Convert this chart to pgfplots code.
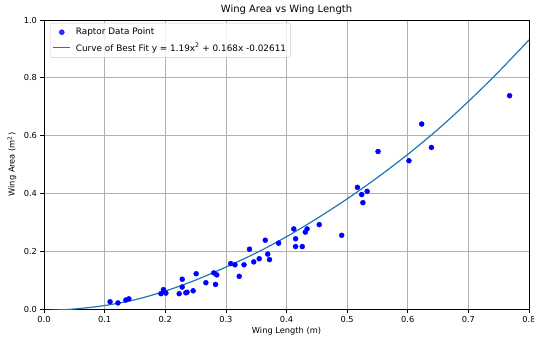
\documentclass[border=0pt]{standalone}
\usepackage{pgfplots}
\pgfplotsset{compat=1.18}
\usepackage{fontspec}
\setmainfont{DejaVu Sans}
\definecolor{mplblue}{HTML}{1F77B4}
\definecolor{gridgray}{HTML}{B0B0B0}
\definecolor{leggray}{HTML}{CCCCCC}
\begin{document}
\begin{tikzpicture}
\begin{axis}[
  name=ax,
  at={(0,0)}, anchor=south west,
  width=485bp, height=289bp, scale only axis,
  xmin=0, xmax=0.8, ymin=0, ymax=1.0,
  xtick={0,0.1,0.2,0.3,0.4,0.5,0.6,0.7,0.8},
  ytick={0,0.2,0.4,0.6,0.8,1.0},
  xticklabel style={/pgf/number format/.cd, fixed, fixed zerofill, precision=1},
  yticklabel style={/pgf/number format/.cd, fixed, fixed zerofill, precision=1},
  /pgf/number format/assume math mode=true,
  ticklabel style={font=\fontsize{8.3}{10}\selectfont},
  tick align=outside, xtick pos=lower, ytick pos=left,
  major tick length=3.5bp,
  tick style={black, line width=0.6bp},
  grid=major,
  major grid style={gridgray, line width=0.6bp},
  axis line style={black, line width=0.6bp},
  xlabel={Wing Length (m)},
  xlabel style={font=\fontsize{8.3}{10}\selectfont, at={(axis description cs:0.5,-0.076)}, anchor=center},
  ylabel={Wing Area (m\textsuperscript{2})},
  ylabel style={font=\fontsize{8.3}{10}\selectfont, at={(axis description cs:-0.066,0.5)}, anchor=center},
  legend style={at={(axis description cs:0.0124,0.99)}, anchor=north west,
    font=\fontsize{8.9}{10.5}\selectfont, draw=leggray, rounded corners=2bp,
    fill=white, fill opacity=0.8, text opacity=1, inner xsep=2.5bp, inner ysep=3bp,
    row sep=2.5bp, /tikz/every odd column/.append style={column sep=3bp}},
  legend cell align=left,
]
\addplot[only marks, mark=*, mark size=2.5bp, color=blue, mark options={fill=blue, draw=blue}] coordinates {
(0.109,0.025) (0.122,0.021) (0.135,0.031) (0.140,0.035)
(0.193,0.053) (0.197,0.067) (0.201,0.055) (0.223,0.053)
(0.228,0.103) (0.228,0.076) (0.234,0.056) (0.236,0.058)
(0.246,0.063) (0.251,0.122) (0.267,0.091) (0.280,0.125)
(0.285,0.118) (0.283,0.085) (0.308,0.157) (0.315,0.153)
(0.322,0.113) (0.330,0.153) (0.339,0.207) (0.346,0.163)
(0.355,0.174) (0.365,0.238) (0.369,0.190) (0.372,0.171)
(0.387,0.228) (0.412,0.277) (0.415,0.243) (0.415,0.216)
(0.426,0.216) (0.431,0.266) (0.434,0.277) (0.454,0.292)
(0.491,0.255) (0.517,0.421) (0.524,0.396) (0.526,0.368)
(0.533,0.407) (0.551,0.545) (0.602,0.513) (0.623,0.640)
(0.639,0.559) (0.768,0.738)
};
\addlegendentry{Raptor Data Point}
\addplot[mplblue, line width=1.2bp, smooth, no marks] coordinates {
(0.00,-0.005) (0.05,0.000) (0.10,0.012) (0.15,0.032) (0.20,0.062)
(0.25,0.100) (0.30,0.145) (0.35,0.194) (0.40,0.250) (0.45,0.313)
(0.50,0.381) (0.55,0.455) (0.60,0.535) (0.65,0.622) (0.70,0.718)
(0.75,0.821) (0.80,0.931)
};
\addlegendentry{Curve of Best Fit y = 1.19x\textsuperscript{2} + 0.168x -0.02611}
\end{axis}
\node[font=\fontsize{10}{12}\selectfont, anchor=center, inner sep=0pt, yshift=10bp] at (ax.north) {Wing Area vs Wing Length};
\pgfresetboundingbox
\useasboundingbox (-44bp,-30bp) rectangle (490bp,309bp);
\end{tikzpicture}
\end{document}
